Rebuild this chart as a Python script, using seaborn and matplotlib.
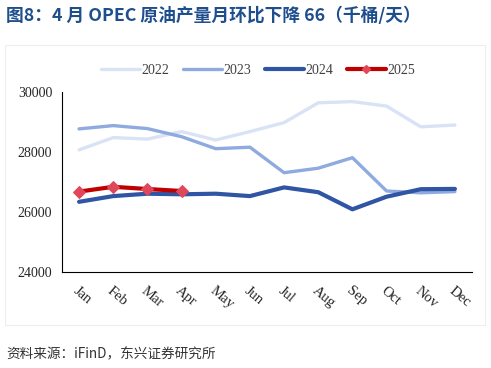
import pandas as pd
import numpy as np
import seaborn as sns
import matplotlib.pyplot as plt
from matplotlib.patches import Rectangle

months = ['Jan', 'Feb', 'Mar', 'Apr', 'May', 'Jun', 'Jul', 'Aug', 'Sep', 'Oct', 'Nov', 'Dec']
y2022 = [28070, 28480, 28430, 28680, 28400, 28680, 28980, 29640, 29680, 29530, 28840, 28900]
y2023 = [28770, 28880, 28780, 28510, 28110, 28160, 27310, 27460, 27810, 26700, 26640, 26680]
y2024 = [26340, 26530, 26610, 26590, 26610, 26530, 26820, 26660, 26090, 26510, 26760, 26770]
y2025 = [26680, 26840, 26766, 26700]

# long-form table for seaborn
rows = []
for year, vals in [('2022', y2022), ('2023', y2023), ('2024', y2024), ('2025', y2025)]:
    for i, v in enumerate(vals):
        rows.append({'month': i, 'year': year, 'value': v})
data = pd.DataFrame(rows)

colors = {'2022': '#D9E3F5', '2023': '#8EAADF', '2024': '#2F55A4', '2025': '#C00000'}
widths = {'2022': 2.4, '2023': 2.4, '2024': 3.0, '2025': 3.0}

sns.set_style('white')
plt.rcParams['font.family'] = ['Liberation Serif', 'DejaVu Sans']

fig = plt.figure(figsize=(4.91, 3.68), dpi=100)
ax = fig.add_axes([62 / 491, 1 - 272 / 368, 410 / 491, 180 / 368])

for year in ['2022', '2023', '2024', '2025']:
    sub = data[data['year'] == year]
    if year == '2025':
        sns.lineplot(x='month', y='value', data=sub, ax=ax, color=colors[year],
                     linewidth=widths[year], marker='D', markersize=6,
                     markerfacecolor='#E0485A', markeredgecolor='#E0485A', zorder=5)
    else:
        sns.lineplot(x='month', y='value', data=sub, ax=ax, color=colors[year],
                     linewidth=widths[year])

ax.set_xlim(-0.5, 11.5)
ax.set_ylim(24000, 30000)
ax.set_yticks([24000, 26000, 28000, 30000])
ax.set_yticklabels(['24000', '26000', '28000', '30000'], fontsize=10)
ax.set_xticks(np.arange(12))
ax.set_xticklabels(months, fontsize=10.5, rotation=-40, ha='left', rotation_mode='anchor')
ax.tick_params(axis='x', length=0, pad=9)
ax.set_xticks(np.arange(12) + 0.5, minor=True)
ax.tick_params(axis='x', which='minor', direction='in', length=3, color='black')
ax.tick_params(axis='y', direction='out', length=4, color='black', pad=3)
ax.set_xlabel('')
ax.set_ylabel('')
for s in ['top', 'right']:
    ax.spines[s].set_visible(False)
for s in ['left', 'bottom']:
    ax.spines[s].set_color('black')
    ax.spines[s].set_linewidth(0.8)
if ax.get_legend():
    ax.get_legend().remove()

# legend
handles = []
for year in ['2022', '2023', '2024', '2025']:
    if year == '2025':
        h, = ax.plot([], [], color=colors[year], linewidth=widths[year], marker='D',
                     markersize=4, markerfacecolor='#E0485A', markeredgecolor='#E0485A')
    else:
        h, = ax.plot([], [], color=colors[year], linewidth=widths[year])
    handles.append(h)
fig.legend(handles, ['2022', '2023', '2024', '2025'], loc='center', ncol=4,
           bbox_to_anchor=(258 / 491, 1 - 70 / 368), frameon=False, fontsize=10,
           handlelength=2.8, handletextpad=0.1, columnspacing=1.0,
           labelcolor='#404040')

# light frame around chart
fig.patches.append(Rectangle((5 / 491, 1 - 325 / 368), 480 / 491, 280 / 368,
                             transform=fig.transFigure, fill=False,
                             edgecolor='#EEEEEE', linewidth=0.8))

fig.text(6 / 491, 1 - 16 / 368, '图8：4 月 OPEC 原油产量月环比下降 66（千桶/天）',
         fontsize=12.8, fontweight='bold', color='#1F4E8C',
         family=['Noto Sans CJK SC', 'DejaVu Sans'], va='center')
fig.text(6 / 491, 1 - 354 / 368, '资料来源：iFinD，东兴证券研究所', fontsize=9.8,
         style='italic', color='#333333', family=['Noto Sans CJK SC', 'DejaVu Sans'],
         va='center')

plt.savefig('out.png', dpi=100)
